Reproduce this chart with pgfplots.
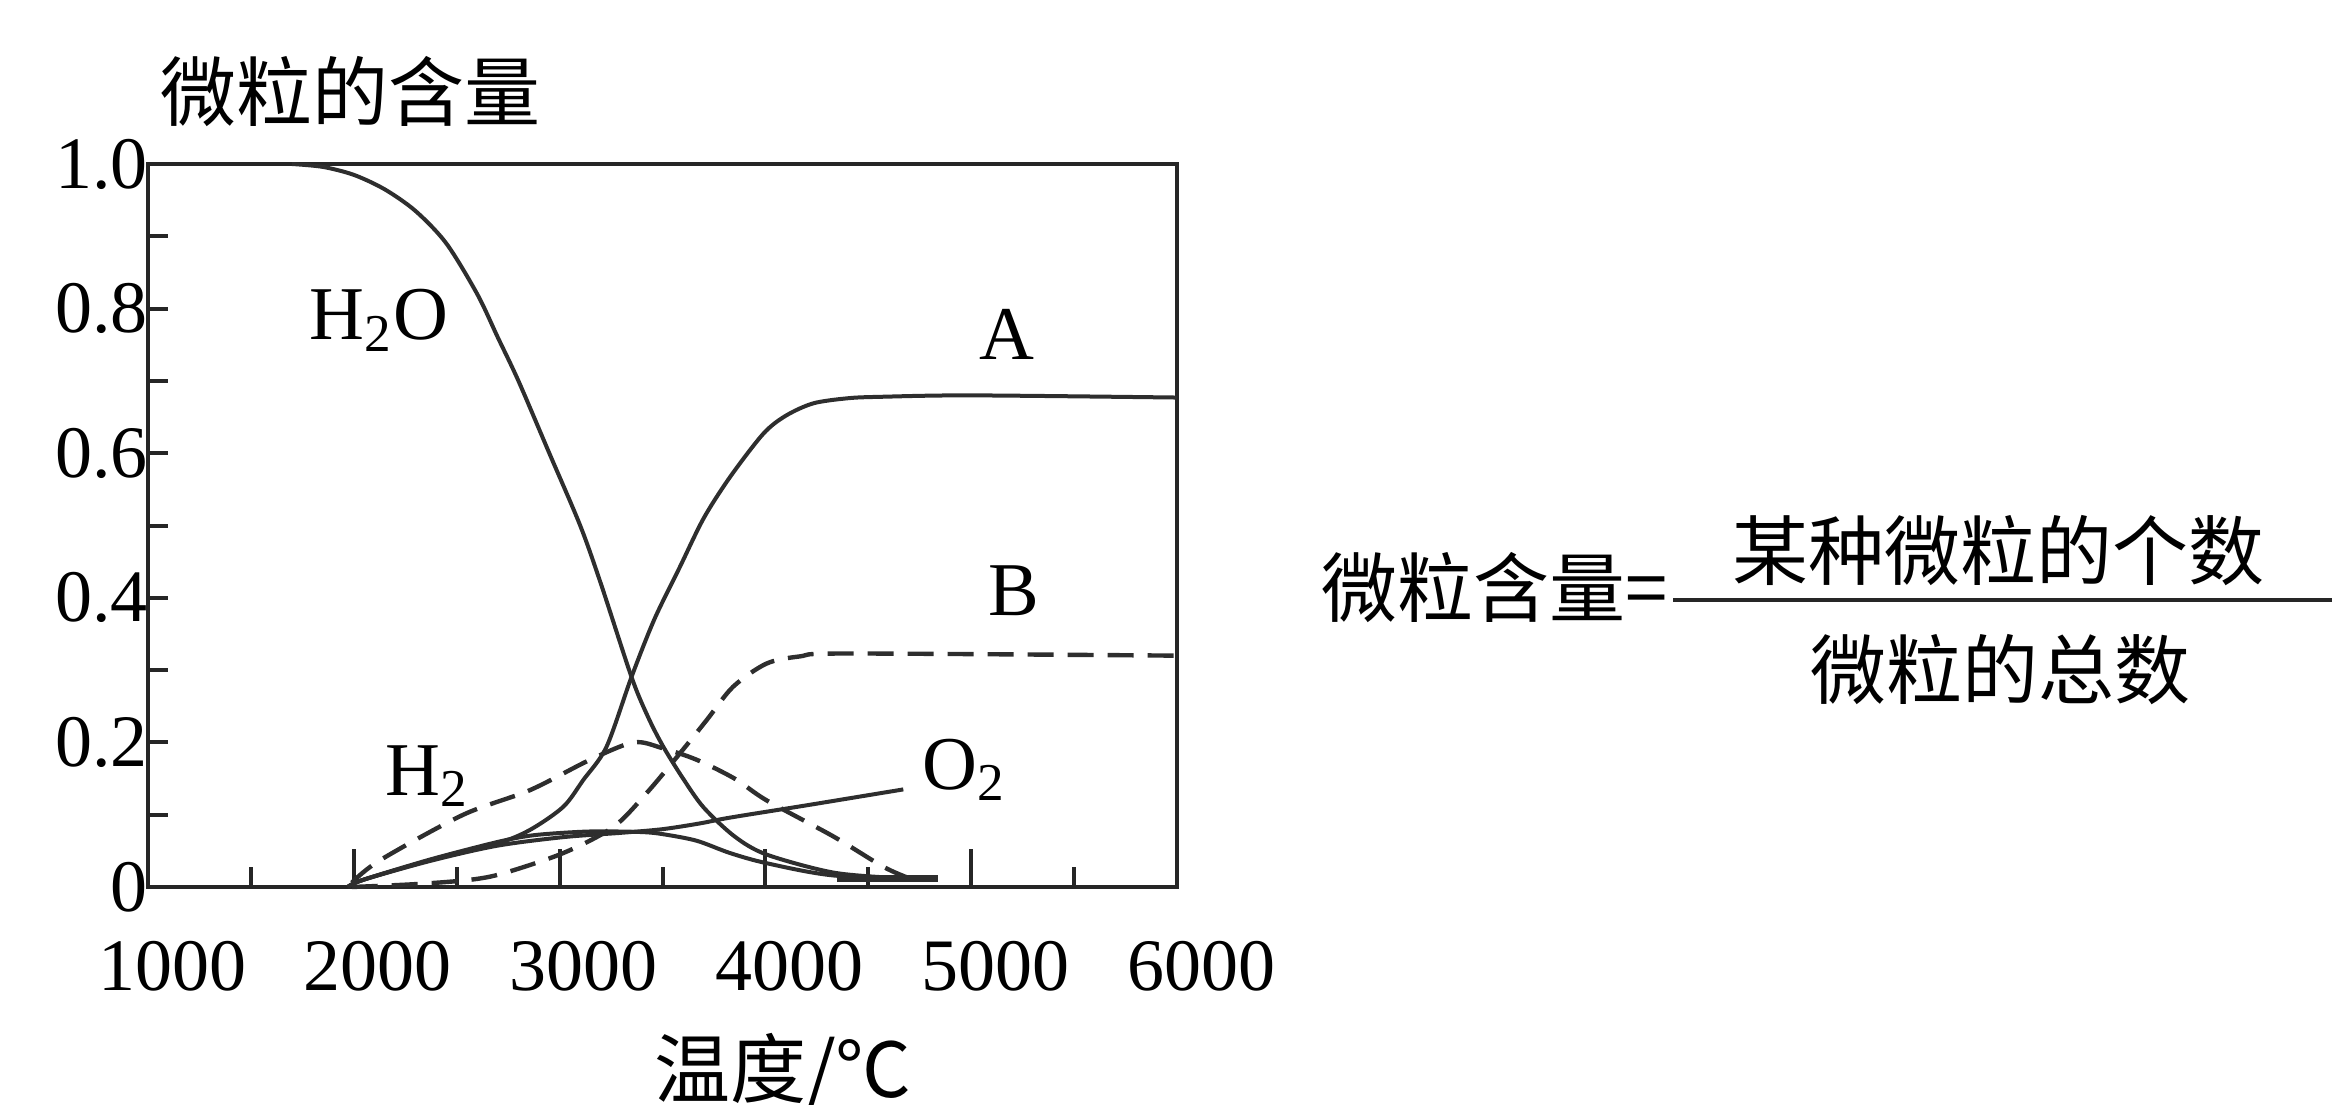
\documentclass[border=0pt]{standalone}
\usepackage{fontspec}
\setmainfont{Liberation Serif}
\newfontfamily\cjk{Noto Sans CJK SC}
\usepackage{pgfplots}
\pgfplotsset{compat=1.18}
\definecolor{curve}{gray}{0.18}

\begin{document}
\begin{tikzpicture}[x=1pt,y=1pt]
\useasboundingbox (0,0) rectangle (583,-276);
\begin{axis}[
  at={(37pt,-221.75pt)}, anchor=south west,
  scale only axis, width=257.25pt, height=180.75pt,
  xmin=1000, xmax=6000, ymin=0, ymax=1,
  axis line style={line width=1.2pt, black!85},
  tick align=inside,
  xtick pos=left, ytick pos=left,
  xtick={1000,2000,3000,4000,5000,6000},
  xticklabels={1000,2000,3000,4000,5000,6000},
  minor x tick num=1,
  ytick={0,0.2,0.4,0.6,0.8,1},
  yticklabels={0,0.2,0.4,0.6,0.8,1.0},
  minor ytick={0.1,0.2,0.3,0.4,0.5,0.6,0.7,0.8,0.9},
  major y tick style={draw=none},
  major tick length=9.5pt, minor tick length=5pt,
  tick style={line width=1pt, black!85},
  /pgf/number format/assume math mode=true,
  ticklabel style={font=\fontsize{18.5}{20}\selectfont},
  xticklabel style={xshift=6pt, yshift=-10pt},
  yticklabel style={xshift=3.5pt},
  clip=false,
]
% H2O
\addplot[curve, line width=1pt, smooth, tension=0.5] coordinates {
(1700,1.0) (1850,0.996) (2000,0.985) (2150,0.965) (2300,0.935) (2450,0.89)
(2600,0.82) (2700,0.76) (2800,0.70) (2950,0.6) (3100,0.5) (3200,0.42)
(3350,0.29) (3430,0.235) (3504,0.194) (3600,0.15) (3700,0.11) (3850,0.07)
(4005,0.045) (4330,0.02) (4654,0.012) (4780,0.01)};
% A
\addplot[curve, line width=1pt, smooth, tension=0.5] coordinates {
(1970,0.0) (2046,0.01) (2370,0.037) (2694,0.06) (2856,0.079) (3018,0.111)
(3115,0.148) (3228,0.194) (3350,0.291) (3460,0.37) (3585,0.443) (3700,0.51)
(3828,0.567) (3990,0.627) (4100,0.652) (4233,0.669) (4400,0.676) (4557,0.678)
(5000,0.68) (6000,0.677)};
% hump
\addplot[curve, line width=1pt, smooth, tension=0.5] coordinates {
(1970,0.0) (2046,0.01) (2370,0.038) (2694,0.062) (2856,0.071) (3018,0.075)
(3180,0.077) (3400,0.076) (3504,0.073) (3666,0.064) (3828,0.047) (4005,0.033)
(4330,0.016) (4815,0.01)};
% O2
\addplot[curve, line width=1pt, smooth, tension=0.5] coordinates {
(1970,0.0) (2046,0.01) (2370,0.036) (2694,0.057) (3018,0.069) (3300,0.075)
(3500,0.08) (3682,0.088) (3828,0.096) (4200,0.113) (4670,0.135)};
% B
\addplot[curve, line width=1.1pt, dash pattern=on 6.5pt off 3.5pt, smooth, tension=0.5] coordinates {
(1990,0.0) (2300,0.004) (2565,0.01) (2727,0.019) (3018,0.047) (3261,0.083)
(3423,0.13) (3585,0.185) (3715,0.231) (3843,0.277) (4005,0.309) (4168,0.319)
(4400,0.323) (6000,0.32)};
% H2
\addplot[curve, line width=1.1pt, dash pattern=on 6.5pt off 3.5pt, smooth, tension=0.5] coordinates {
(1990,0.006) (2127,0.037) (2532,0.10) (2856,0.134) (3148,0.176) (3360,0.2)
(3500,0.192) (3666,0.176) (3850,0.15) (4005,0.12) (4330,0.07) (4573,0.028)
(4700,0.012)};
% bundle ends at the bottom
\addplot[curve, line width=1.6pt] coordinates {(4350,0.012) (4840,0.012)};

\node[font=\fontsize{19}{21}\selectfont] at (axis cs:2122,0.784) {H\textsubscript{2}O};
\node[font=\fontsize{19}{21}\selectfont] at (axis cs:5175,0.765) {A};
\node[font=\fontsize{19}{21}\selectfont] at (axis cs:5205,0.41) {B};
\node[font=\fontsize{19}{21}\selectfont] at (axis cs:2356,0.153) {H\textsubscript{2}};
\node[font=\fontsize{19}{21}\selectfont] at (axis cs:4965,0.162) {O\textsubscript{2}};
\end{axis}

\node[font=\cjk\fontsize{19}{21}\selectfont] at (87.5,-23) {微粒的含量};
\node[font=\cjk\fontsize{19}{21}\selectfont] at (195.75,-268) {温度/℃};
\node[font=\cjk\fontsize{19}{21}\selectfont, anchor=east, inner sep=0pt] at (417,-147) {微粒含量=};
\node[font=\cjk\fontsize{19}{21}\selectfont] at (499.5,-137.75) {某种微粒的个数};
\node[font=\cjk\fontsize{19}{21}\selectfont] at (500,-167.5) {微粒的总数};
\draw[line width=0.9pt, black!85] (418.25,-150) -- (583,-150);
\end{tikzpicture}
\end{document}
